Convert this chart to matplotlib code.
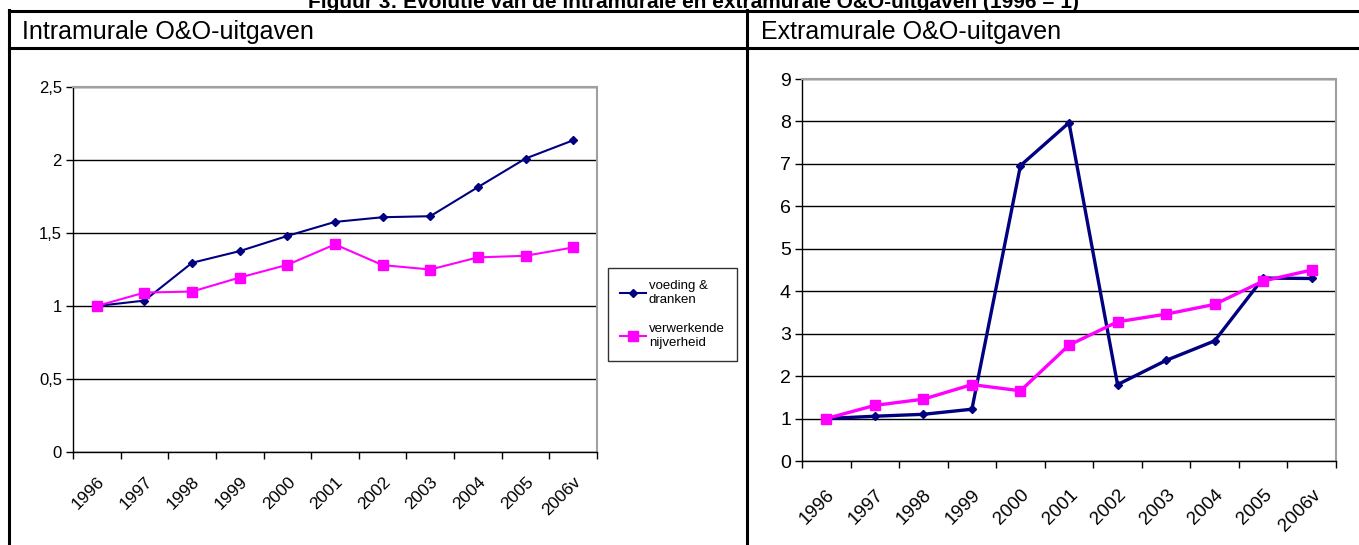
import matplotlib
matplotlib.use("Agg")
import matplotlib.pyplot as plt
from matplotlib.lines import Line2D

plt.rcParams['font.family'] = ['Liberation Sans', 'DejaVu Sans']

years = ['1996', '1997', '1998', '1999', '2000', '2001', '2002', '2003', '2004', '2005', '2006v']

# intramurale uitgaven (1996 = 1)
intra_voeding = [1.0, 1.037, 1.296, 1.376, 1.48, 1.576, 1.608, 1.615, 1.814, 2.01, 2.135]
intra_verwerkend = [1.0, 1.092, 1.099, 1.195, 1.282, 1.422, 1.28, 1.25, 1.333, 1.344, 1.401]

# extramurale uitgaven (1996 = 1)
extra_voeding = [1.0, 1.055, 1.10, 1.22, 6.96, 7.97, 1.80, 2.37, 2.83, 4.31, 4.30]
extra_verwerkend = [1.0, 1.31, 1.457, 1.80, 1.654, 2.73, 3.28, 3.46, 3.69, 4.24, 4.50]

series_names = ['voeding &\ndranken', 'verwerkende\nnijverheid']

W, H = 1359, 545
NAVY = '#000080'
MAGENTA = '#ff00ff'

fig = plt.figure(figsize=(W / 100, H / 100), dpi=100)


def box(x0, y0, x1, y1):
    # pixel box (top-left origin) -> figure fraction rect
    return [x0 / W, 1 - y1 / H, (x1 - x0) / W, (y1 - y0) / H]


# table frame
frame = fig.add_axes([0, 0, 1, 1])
frame.set_xlim(0, W)
frame.set_ylim(H, 0)
frame.axis('off')
frame.plot([9, W], [11, 11], color='black', lw=2.2)
frame.plot([9, W], [48, 48], color='black', lw=2.2)
frame.plot([9, 9], [10, H], color='black', lw=2.2)
frame.plot([747, 747], [10, H], color='black', lw=2.2)
frame.text(694, 8, 'Figuur 3: Evolutie van de intramurale en extramurale O&O-uitgaven (1996 = 1)',
           ha='center', va='baseline', fontsize=15, fontweight='bold')
frame.text(22, 32, 'Intramurale O&O-uitgaven', ha='left', va='center', fontsize=18)
frame.text(761, 32, 'Extramurale O&O-uitgaven', ha='left', va='center', fontsize=18)


def draw_panel(ax, a, b, ymax, ystep, lw, labels):
    x = list(range(len(years)))
    ax.plot(x, a, color=NAVY, lw=lw, marker='D', ms=4.2, mfc=NAVY, mec=NAVY)
    ax.plot(x, b, color=MAGENTA, lw=lw, marker='s', ms=6.5, mfc=MAGENTA, mec=MAGENTA)
    ax.set_xlim(-0.5, len(years) - 0.5)
    ax.set_ylim(0, ymax)
    ticks = [i * ystep for i in range(int(round(ymax / ystep)) + 1)]
    ax.set_yticks(ticks)
    ax.set_yticklabels(labels)
    ax.yaxis.grid(True, color='black', lw=1)
    ax.set_axisbelow(True)
    ax.set_xticks([i - 0.5 for i in range(len(years) + 1)])
    ax.set_xticklabels([])
    ax.set_xticks(x, minor=True)
    ax.set_xticklabels(years, minor=True, rotation=45, ha='right', rotation_mode='anchor')
    ax.tick_params(axis='x', which='major', length=5, width=1, direction='out')
    ax.tick_params(axis='x', which='minor', length=0, pad=16, labelsize=12.5)
    ax.tick_params(axis='y', length=5, width=1, direction='out', labelsize=12, pad=3)
    for s in ('left', 'bottom'):
        ax.spines[s].set_color('black')
        ax.spines[s].set_linewidth(1)
    for s in ('top', 'right'):
        ax.spines[s].set_color('#a0a0a0')
        ax.spines[s].set_linewidth(1.5)


ax1 = fig.add_axes(box(73, 87, 597, 452))
draw_panel(ax1, intra_voeding, intra_verwerkend, 2.5, 0.5, 1.5,
           ['0', '0,5', '1', '1,5', '2', '2,5'])

ax2 = fig.add_axes(box(802, 79, 1336, 461))
draw_panel(ax2, extra_voeding, extra_verwerkend, 9, 1, 2.4,
           [str(i) for i in range(10)])
ax2.tick_params(axis='y', labelsize=14)
ax2.tick_params(axis='x', which='minor', labelsize=13.5, pad=18)

handles = [Line2D([], [], color=NAVY, lw=1.5, marker='D', ms=4.2),
           Line2D([], [], color=MAGENTA, lw=1.5, marker='s', ms=6.5)]
leg = fig.legend(handles, series_names, loc='upper left',
                 bbox_to_anchor=(608 / W, 1 - 268 / H), fontsize=9.5,
                 frameon=True, fancybox=False, edgecolor='black',
                 handlelength=2.0, handletextpad=0.2, labelspacing=1.3,
                 borderpad=0.9, borderaxespad=0)
leg.get_frame().set_linewidth(1)

fig.savefig('out.png', dpi=100)
